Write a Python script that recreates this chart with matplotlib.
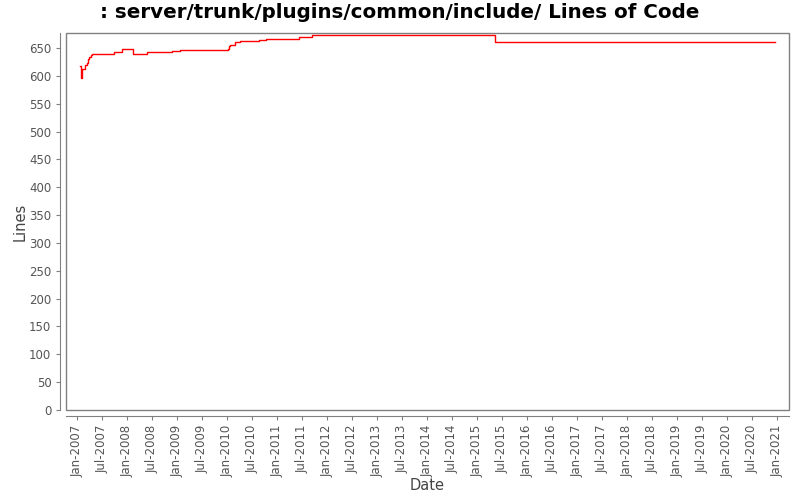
import matplotlib
matplotlib.use("Agg")
import matplotlib.pyplot as plt
import matplotlib.dates as mdates
from matplotlib.patches import Rectangle
import pandas as pd

# step points (date of change, lines of code after it)
dates = ["2007-01-25", "2007-01-26", "2007-02-08", "2007-02-28", "2007-03-12",
         "2007-03-21", "2007-04-01", "2007-04-11", "2007-04-23", "2007-04-30",
         "2007-09-29", "2007-11-22", "2008-02-15", "2008-05-14", "2008-05-26",
         "2008-11-27", "2009-01-22", "2010-01-10", "2010-01-15", "2010-01-22",
         "2010-02-28", "2010-04-05", "2010-08-19", "2010-10-09", "2011-06-13",
         "2011-09-16", "2015-05-14", "2020-12-16"]
lines = [618, 597, 613, 620, 624,
         631, 634, 637, 639, 640,
         642, 648, 639, 640, 642,
         644, 646, 648, 653, 656,
         660, 662, 664, 666, 669,
         673, 661, 661]

x = pd.to_datetime(dates)

fig = plt.figure(figsize=(8, 5), dpi=100)
ax = fig.add_axes([0.0825, 0.18, 0.904, 0.754])

ax.step(x, lines, where="post", color="red", linewidth=1)

ax.set_xlim(pd.Timestamp("2006-10-12"), pd.Timestamp("2021-03-28"))
ax.set_ylim(0, 677)
ax.set_yticks(range(0, 651, 50))
ax.xaxis.set_major_locator(mdates.MonthLocator(bymonth=[1, 7]))
ax.xaxis.set_major_formatter(mdates.DateFormatter("%b-%Y"))

# plot frame plus offset axis lines, like the original
for side in ["top", "right"]:
    ax.spines[side].set_visible(False)
for side in ["left", "bottom"]:
    ax.spines[side].set_position(("outward", 4))
    ax.spines[side].set_color("gray")
ax.add_patch(Rectangle((0, 0), 1, 1, transform=ax.transAxes, fill=False,
                       edgecolor="gray", linewidth=1, clip_on=False))

ax.tick_params(axis="both", colors="gray", labelcolor="#555555", labelsize=8.5, length=3)
ax.tick_params(axis="x", labelrotation=90)

ax.set_xlabel("Date", fontsize=10.5, color="#444444", labelpad=1)
ax.set_ylabel("Lines", fontsize=10.5, color="#444444", labelpad=1)
fig.suptitle(": server/trunk/plugins/common/include/ Lines of Code",
             fontsize=14.3, fontweight="bold", y=0.993)

fig.savefig("out.png", dpi=100)
